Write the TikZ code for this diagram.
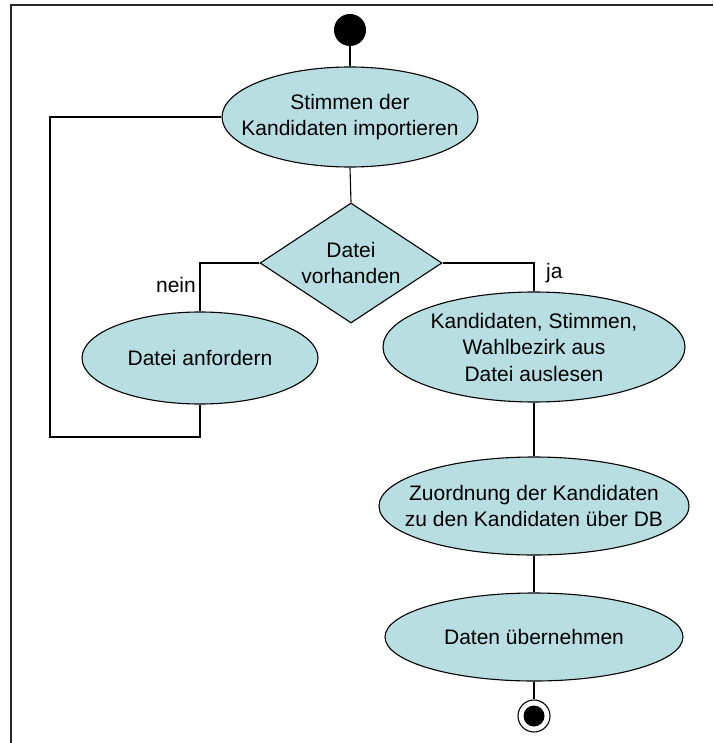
\documentclass[tikz,border=0pt]{standalone}
\usepackage{fontspec}
\setmainfont{Liberation Sans}
\usetikzlibrary{shapes.geometric}
\definecolor{actfill}{RGB}{185,222,226}
\definecolor{framegray}{RGB}{40,40,40}
\tikzset{
  act/.style={ellipse, draw=black, fill=actfill, line width=1.1pt, inner sep=0pt},
  decision/.style={diamond, draw=black, fill=actfill, line width=1.1pt, inner sep=0pt, aspect=1.5},
  txt/.style={align=center, inner sep=0pt, font=\fontsize{21}{26.5}\selectfont},
  lbl/.style={inner sep=0pt, font=\fontsize{21}{25}\selectfont},
  conn/.style={draw=black, line width=1.1pt},
  startnode/.style={circle, fill=black, inner sep=0pt, minimum size=32pt},
  endouter/.style={circle, draw=black, fill=white, line width=1.1pt, inner sep=0pt, minimum size=32pt},
  endinner/.style={circle, fill=black, inner sep=0pt, minimum size=21pt}
}
\begin{document}
\begin{tikzpicture}[x=1pt,y=-1pt]
\useasboundingbox (0,0) rectangle (713,743);
% frame
\draw[framegray, line width=1.5pt] (11,743) -- (11,5) -- (713,5);

% nodes
\node[startnode] (s) at (350,30) {};
\node[act, minimum width=256pt, minimum height=100pt] (a1) at (350,117) {};
\node[txt] (a1t) at (a1.center) {Stimmen der\\Kandidaten importieren};
\node[decision, minimum width=182pt, minimum height=120pt] (d) at (351,263) {};
\node[txt] (dt) at (d.center) {Datei\\vorhanden};
\node[act, minimum width=236pt, minimum height=92pt] (da) at (200,358) {};
\node[txt] (dat) at (da.center) {Datei anfordern};
\node[act, minimum width=302pt, minimum height=110pt] (k) at (534,347) {};
\node[txt] (kt) at (k.center) {Kandidaten, Stimmen,\\Wahlbezirk aus\\Datei auslesen};
\node[act, minimum width=310pt, minimum height=98pt] (z) at (534,506) {};
\node[txt] (zt) at (z.center) {Zuordnung der Kandidaten\\zu den Kandidaten über DB};
\node[act, minimum width=298pt, minimum height=88pt] (u) at (534,637) {};
\node[txt] (ut) at (u.center) {Daten übernehmen};
\node[endouter] (e) at (534,716) {};
\node[endinner] (ei) at (e.center) {};

% labels
\node[lbl, anchor=east] (nein) at (196,285) {nein};
\node[lbl, anchor=west] (ja) at (546,273) {ja};

% loop coordinates
\coordinate (l1) at (200,437);
\coordinate (l2) at (50,437);
\coordinate (l3) at (50,117);

% connectors
\draw[conn] (s) -- (a1.north);
\draw[conn] (a1.south) -- (d.north);
\draw[conn] (d.west) -| (da.north);
\draw[conn] (d.east) -| (k.north);
\draw[conn] (da.south) -- (l1) -- (l2) -- (l3) -- (a1.west);
\draw[conn] (k.south) -- (z.north);
\draw[conn] (z.south) -- (u.north);
\draw[conn] (u.south) -- (e.north);
\end{tikzpicture}
\end{document}
